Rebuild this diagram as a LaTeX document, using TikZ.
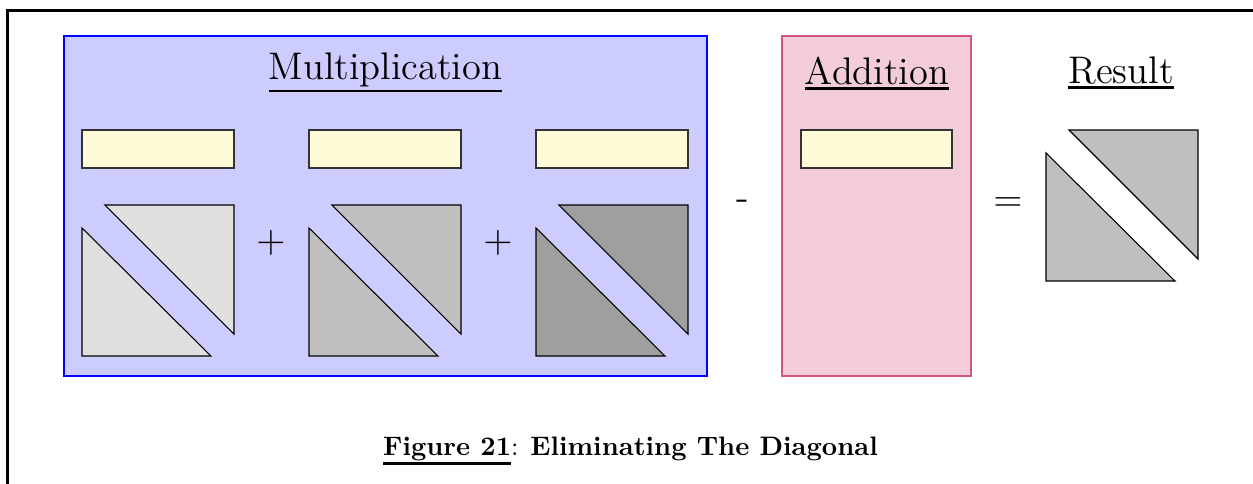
\documentclass[tikz,border=0pt]{standalone}
\usetikzlibrary{fit}
\definecolor{slotfill}{RGB}{255,250,215}
\definecolor{addborder}{RGB}{214,84,125}
\newcommand\tripair[3]{%
  \filldraw[tri, fill=#3] (#1,#2+23) -- (#1,#2+151) -- (#1+129,#2+151) -- cycle;
  \filldraw[tri, fill=#3] (#1+23,#2) -- (#1+152,#2) -- (#1+152,#2+129) -- cycle;
}
\newcommand\thul[2]{\vtop{\hbox{#2}\kern#1\hrule height 1pt}}
\tikzset{
  tri/.style={draw=black, line width=0.4pt, line join=miter},
  panel/.style={inner sep=0pt, line width=0.4pt},
  slot/.style={inner sep=0pt, draw=black!80, fill=slotfill, line width=0.4pt},
  title/.style={anchor=base, font=\Large, inner sep=0pt},
  op/.style={font=\Large, inner sep=0pt},
}
\begin{document}
\begin{tikzpicture}[x=0.3745pt, y=-0.3745pt]
\useasboundingbox (0,0) rectangle (1253,483);
% frame
\coordinate (fbl) at (7.5,520);
\coordinate (ftl) at (7.5,10.5);
\coordinate (ftr) at (1290,10.5);
\draw[line width=1.12pt] (fbl) -- (ftl) -- (ftr);
% panels
\node[panel, draw=blue, fill=blue!20, fit={(64,36) (707,376)}] (mult) {};
\node[panel, draw=addborder, fill=purple!20, fit={(782,36) (971,376)}] (add) {};
% titles
\node[title] (tmult) at (385.5,79) {\thul{1.2pt}{Multiplication}};
\node[title] (tadd) at (877,84) {\thul{1.0pt}{Addition}};
\node[title] (tres) at (1121,83) {\thul{1.0pt}{Result}};
% slots
\node[slot, fit={(82,130) (234,168)}] (s1) {};
\node[slot, fit={(309,130) (461,168)}] (s2) {};
\node[slot, fit={(536,130) (688,168)}] (s3) {};
\node[slot, fit={(801,130) (952,168)}] (s4) {};
% triangles
\tripair{82}{205}{gray!25}
\tripair{309}{205}{gray!50}
\tripair{536}{205}{gray!75}
\tripair{1046}{130}{gray!50}
% operators
\node[op] (p1) at (271,243) {$+$};
\node[op] (p2) at (498,243) {$+$};
\node[op] (minus) at (743,205) {-};
\node[op] (eq) at (1008,205) {$=$};
% caption
\node[anchor=base, inner sep=0pt] (cap) at (630.5,455) {\thul{0.6pt}{\textbf{Figure 21}}: \textbf{Eliminating The Diagonal}};
\end{tikzpicture}
\end{document}
